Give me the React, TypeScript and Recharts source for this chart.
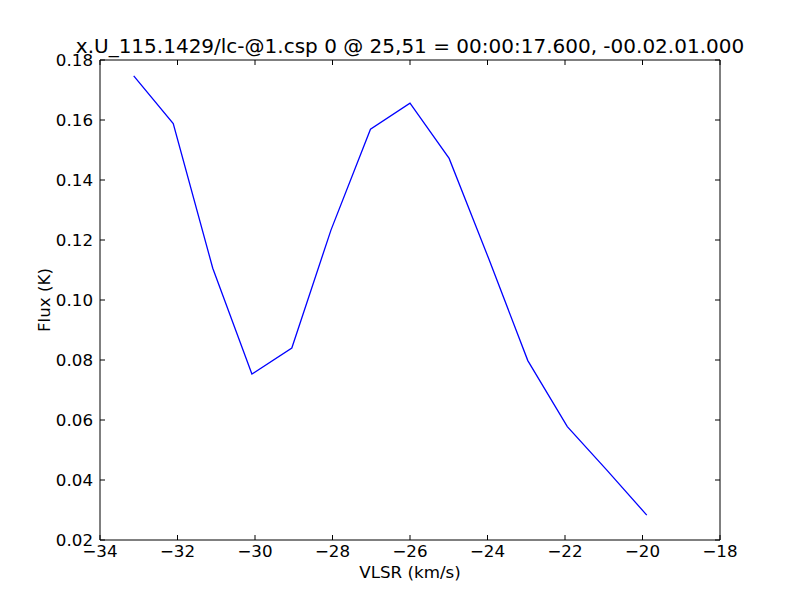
import { LineChart, Line, XAxis, YAxis } from 'recharts'

// spectrum
const vlsr = [-33.13, -32.11, -31.09, -30.08, -29.05, -28.04, -27.02, -26.0, -24.99, -23.96, -22.96, -21.94, -20.92, -19.89]
const fluxK = [0.1747, 0.1588, 0.1106, 0.0753, 0.084, 0.1233, 0.1569, 0.1656, 0.1472, 0.1135, 0.0798, 0.0578, 0.0433, 0.0283]

const xTicks = [-34, -32, -30, -28, -26, -24, -22, -20, -18]
const yTicks = [0.02, 0.04, 0.06, 0.08, 0.1, 0.12, 0.14, 0.16, 0.18]

const title = 'x.U_115.1429/lc-@1.csp 0 @ 25,51 = 00:00:17.600, -00.02.01.000'
const xLabel = 'VLSR (km/s)'
const yLabel = 'Flux (K)'

const data = vlsr.map((v, i) => ({ vlsr: v, flux: fluxK[i] }))

const FONT = '"DejaVu Sans", sans-serif'
const TICK_LEN = 5
const FS = 16.7

const fmtX = (v: number) => (v < 0 ? '\u2212' + Math.abs(v) : String(v))
const fmtY = (v: number) => v.toFixed(2)

function BottomTick(props: any) {
  const { x, y, payload } = props
  return (
    <g>
      <line x1={x} x2={x} y1={y} y2={y - TICK_LEN} stroke="#000" />
      <text x={x} y={y + 17} textAnchor="middle" fontFamily={FONT} fontSize={FS} fill="#000">
        {fmtX(payload.value)}
      </text>
    </g>
  )
}

function TopTick(props: any) {
  const { x, y } = props
  return <line x1={x} x2={x} y1={y} y2={y + TICK_LEN} stroke="#000" />
}

function LeftTick(props: any) {
  const { x, y, payload } = props
  return (
    <g>
      <line x1={x} x2={x + TICK_LEN} y1={y} y2={y} stroke="#000" />
      <text x={x - 7} y={y + 6} textAnchor="end" fontFamily={FONT} fontSize={FS} fill="#000">
        {fmtY(payload.value)}
      </text>
    </g>
  )
}

function RightTick(props: any) {
  const { x, y } = props
  return <line x1={x} x2={x - TICK_LEN} y1={y} y2={y} stroke="#000" />
}

const axisLine = { stroke: '#000', strokeWidth: 1 }

export default function App() {
  return (
    <div style={{ position: 'absolute', left: 0, top: 0, width: 800, height: 600, background: '#fff' }}>
      <LineChart width={800} height={600} data={data} margin={{ top: 59, right: 79, bottom: 0, left: 0 }}>
        <XAxis
          dataKey="vlsr"
          type="number"
          domain={[-34, -18]}
          ticks={xTicks}
          allowDataOverflow
          height={60}
          tickSize={0}
          tickMargin={0}
          tickLine={false}
          axisLine={axisLine}
          tick={BottomTick}
          interval={0}
        />
        <XAxis
          xAxisId="top"
          orientation="top"
          dataKey="vlsr"
          type="number"
          domain={[-34, -18]}
          ticks={xTicks}
          allowDataOverflow
          height={1}
          tickSize={0}
          tickMargin={0}
          tickLine={false}
          axisLine={axisLine}
          tick={TopTick}
          interval={0}
        />
        <YAxis
          type="number"
          domain={[0.02, 0.18]}
          ticks={yTicks}
          allowDataOverflow
          width={100}
          tickSize={0}
          tickMargin={0}
          tickLine={false}
          axisLine={axisLine}
          tick={LeftTick}
          interval={0}
        />
        <YAxis
          yAxisId="right"
          orientation="right"
          type="number"
          domain={[0.02, 0.18]}
          ticks={yTicks}
          allowDataOverflow
          width={1}
          tickSize={0}
          tickMargin={0}
          tickLine={false}
          axisLine={axisLine}
          tick={RightTick}
          interval={0}
        />
        {/* hidden copy so the top/right frame axes get a domain */}
        <Line
          xAxisId="top"
          yAxisId="right"
          type="linear"
          dataKey="flux"
          stroke="none"
          dot={false}
          isAnimationActive={false}
        />
        <Line
          type="linear"
          dataKey="flux"
          stroke="#0000ff"
          strokeWidth={1.3}
          dot={false}
          isAnimationActive={false}
        />
      </LineChart>
      <svg width={800} height={600} style={{ position: 'absolute', left: 0, top: 0, pointerEvents: 'none' }}>
        <text x={410} y={53} textAnchor="middle" fontFamily={FONT} fontSize={20} fill="#000">
          {title}
        </text>
        <text x={410} y={578} textAnchor="middle" fontFamily={FONT} fontSize={FS} fill="#000">
          {xLabel}
        </text>
        <text
          x={50}
          y={300}
          transform="rotate(-90 50 300)"
          textAnchor="middle"
          fontFamily={FONT}
          fontSize={FS}
          fill="#000"
        >
          {yLabel}
        </text>
      </svg>
    </div>
  )
}
